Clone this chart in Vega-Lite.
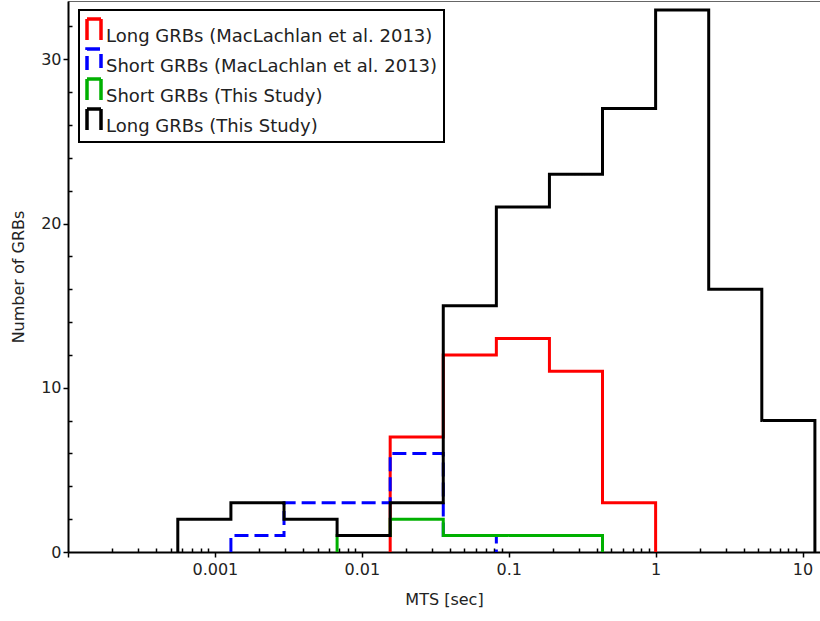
{
  "$schema": "https://vega.github.io/schema/vega-lite/v6.json",
  "autosize": "none",
  "padding": {"left": 68, "top": 1, "right": 0, "bottom": 69},
  "width": 752,
  "height": 551,
  "background": "white",
  "config": {
    "view": {"stroke": "#666", "strokeWidth": 1},
    "font": "DejaVu Sans",
    "axis": {
      "labelFont": "DejaVu Sans",
      "labelFontSize": 16,
      "labelColor": "#222",
      "titleFont": "DejaVu Sans",
      "titleFontSize": 16,
      "titleFontWeight": "normal",
      "titleColor": "#222",
      "domainColor": "black",
      "domainWidth": 2,
      "tickColor": "black",
      "tickWidth": 1.5,
      "grid": false
    }
  },
  "data": {
    "values": [
      {"s": "Long GRBs (MacLachlan et al. 2013)", "i": 0, "x": 0.0156, "n": 0},
      {"s": "Long GRBs (MacLachlan et al. 2013)", "i": 1, "x": 0.0156, "n": 7},
      {"s": "Long GRBs (MacLachlan et al. 2013)", "i": 2, "x": 0.03585, "n": 12},
      {"s": "Long GRBs (MacLachlan et al. 2013)", "i": 3, "x": 0.08238, "n": 13},
      {"s": "Long GRBs (MacLachlan et al. 2013)", "i": 4, "x": 0.1893, "n": 11},
      {"s": "Long GRBs (MacLachlan et al. 2013)", "i": 5, "x": 0.4351, "n": 3},
      {"s": "Long GRBs (MacLachlan et al. 2013)", "i": 6, "x": 1.0, "n": 0},

      {"s": "Short GRBs (MacLachlan et al. 2013)", "i": 0, "x": 0.001285, "n": 0},
      {"s": "Short GRBs (MacLachlan et al. 2013)", "i": 1, "x": 0.001285, "n": 1},
      {"s": "Short GRBs (MacLachlan et al. 2013)", "i": 2, "x": 0.002954, "n": 3},
      {"s": "Short GRBs (MacLachlan et al. 2013)", "i": 3, "x": 0.006788, "n": 3},
      {"s": "Short GRBs (MacLachlan et al. 2013)", "i": 4, "x": 0.0156, "n": 6},
      {"s": "Short GRBs (MacLachlan et al. 2013)", "i": 5, "x": 0.03585, "n": 1},
      {"s": "Short GRBs (MacLachlan et al. 2013)", "i": 6, "x": 0.08238, "n": 0},

      {"s": "Short GRBs (This Study)", "i": 0, "x": 0.006788, "n": 0},
      {"s": "Short GRBs (This Study)", "i": 1, "x": 0.006788, "n": 1},
      {"s": "Short GRBs (This Study)", "i": 2, "x": 0.0156, "n": 2},
      {"s": "Short GRBs (This Study)", "i": 3, "x": 0.03585, "n": 1},
      {"s": "Short GRBs (This Study)", "i": 4, "x": 0.08238, "n": 1},
      {"s": "Short GRBs (This Study)", "i": 5, "x": 0.1893, "n": 1},
      {"s": "Short GRBs (This Study)", "i": 6, "x": 0.4351, "n": 0},

      {"s": "Long GRBs (This Study)", "i": 0, "x": 0.000559, "n": 0},
      {"s": "Long GRBs (This Study)", "i": 1, "x": 0.000559, "n": 2},
      {"s": "Long GRBs (This Study)", "i": 2, "x": 0.001285, "n": 3},
      {"s": "Long GRBs (This Study)", "i": 3, "x": 0.002954, "n": 2},
      {"s": "Long GRBs (This Study)", "i": 4, "x": 0.006788, "n": 1},
      {"s": "Long GRBs (This Study)", "i": 5, "x": 0.0156, "n": 3},
      {"s": "Long GRBs (This Study)", "i": 6, "x": 0.03585, "n": 15},
      {"s": "Long GRBs (This Study)", "i": 7, "x": 0.08238, "n": 21},
      {"s": "Long GRBs (This Study)", "i": 8, "x": 0.1893, "n": 23},
      {"s": "Long GRBs (This Study)", "i": 9, "x": 0.4351, "n": 27},
      {"s": "Long GRBs (This Study)", "i": 10, "x": 1.0, "n": 33},
      {"s": "Long GRBs (This Study)", "i": 11, "x": 2.298, "n": 16},
      {"s": "Long GRBs (This Study)", "i": 12, "x": 5.282, "n": 8},
      {"s": "Long GRBs (This Study)", "i": 13, "x": 12.14, "n": 0}
    ]
  },
  "mark": {"type": "line", "interpolate": "step-after", "strokeWidth": 3, "clip": true},
  "encoding": {
    "x": {
      "field": "x",
      "type": "quantitative",
      "scale": {"type": "log", "domain": [0.0001, 13.15], "nice": false},
      "axis": {
        "title": "MTS [sec]",
        "titlePadding": 14,
        "labelPadding": 4,
        "values": [0.0001,0.0002,0.0003,0.0004,0.0005,0.0006,0.0007,0.0008,0.0009,
                   0.001,0.002,0.003,0.004,0.005,0.006,0.007,0.008,0.009,
                   0.01,0.02,0.03,0.04,0.05,0.06,0.07,0.08,0.09,
                   0.1,0.2,0.3,0.4,0.5,0.6,0.7,0.8,0.9,
                   1,2,3,4,5,6,7,8,9,10],
        "labelExpr": "(abs(log(datum.value)/LN10 - round(log(datum.value)/LN10)) < 1e-6 && datum.value > 0.0005) ? format(datum.value, '~g') : ''",
        "tickSize": {"condition": {"test": "abs(log(datum.value)/LN10 - round(log(datum.value)/LN10)) < 1e-6", "value": 5}, "value": -4},
        "labelFlush": false,
        "labelOverlap": false
      }
    },
    "y": {
      "field": "n",
      "type": "quantitative",
      "scale": {"domain": [0, 33.55], "nice": false},
      "axis": {
        "title": "Number of GRBs",
        "titlePadding": 14,
        "values": [0,2,4,6,8,10,12,14,16,18,20,22,24,26,28,30,32],
        "labelExpr": "datum.value % 10 === 0 ? datum.label : ''",
        "tickSize": {"condition": {"test": "datum.value % 10 === 0", "value": 5}, "value": -4},
        "labelOverlap": false,
        "labelFlush": false
      }
    },
    "order": {"field": "i", "type": "quantitative"},
    "color": {
      "field": "s",
      "type": "nominal",
      "scale": {
        "domain": ["Long GRBs (MacLachlan et al. 2013)", "Short GRBs (MacLachlan et al. 2013)", "Short GRBs (This Study)", "Long GRBs (This Study)"],
        "range": ["#ff0000", "#0000ff", "#00b000", "#000000"]
      },
      "legend": {
        "title": null,
        "orient": "none",
        "legendX": 11,
        "legendY": 9,
        "strokeColor": "black",
        "fillColor": "white",
        "padding": 6,
        "rowPadding": -0.5,
        "clipHeight": 24,
        "labelFont": "DejaVu Sans",
        "labelFontSize": 18,
        "labelColor": "#222",
        "labelOffset": 3,
        "labelBaseline": "top",
        "labelLimit": 500,
        "symbolType": "M-1,1.7 L-1,-1.3 L1,-1.3 L1,1.7",
        "symbolSize": 196,
        "symbolStrokeWidth": 3.5,
        "symbolFillColor": "transparent",
        "encode": {"legend": {"update": {"strokeWidth": {"value": 2}}}}
      }
    },
    "strokeDash": {
      "field": "s",
      "type": "nominal",
      "scale": {
        "domain": ["Long GRBs (MacLachlan et al. 2013)", "Short GRBs (MacLachlan et al. 2013)", "Short GRBs (This Study)", "Long GRBs (This Study)"],
        "range": [[1, 0], [14, 6], [1, 0], [1, 0]]
      },
      "legend": {
        "title": null,
        "orient": "none",
        "legendX": 11,
        "legendY": 9
      }
    }
  }
}
